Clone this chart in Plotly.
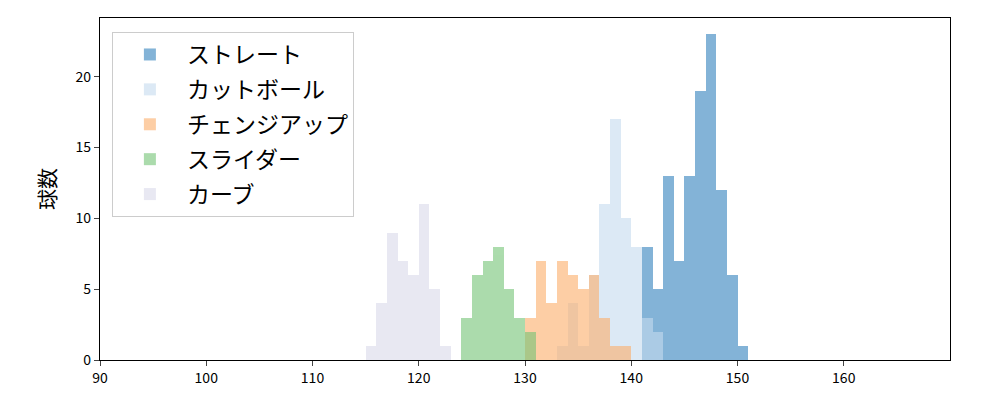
import plotly.graph_objects as go

# pitch types in drawing order
pitch_names = ["ストレート", "カットボール", "チェンジアップ", "スライダー", "カーブ"]
pitch_colors = ["#3182bd", "#c6dbef", "#fdae6b", "#74c476", "#dadaeb"]

# left edge of first 1 km/h bin, and counts per bin
straight_start = 141
straight_counts = [8, 5, 13, 7, 13, 19, 23, 12, 6, 1]

cutter_start = 133
cutter_counts = [1, 4, 1, 6, 11, 17, 10, 8, 3, 2]

change_start = 130
change_counts = [3, 7, 4, 7, 6, 5, 6, 3, 1, 1]

slider_start = 124
slider_counts = [3, 6, 7, 8, 5, 3, 2]

curve_start = 115
curve_counts = [1, 4, 9, 7, 6, 11, 5, 1]

starts = [straight_start, cutter_start, change_start, slider_start, curve_start]
counts = [straight_counts, cutter_counts, change_counts, slider_counts, curve_counts]

font = "Noto Sans CJK JP"

fig = go.Figure()
for name, color, start, cnt in zip(pitch_names, pitch_colors, starts, counts):
    edges = [start + i for i in range(len(cnt))]
    fig.add_trace(
        go.Bar(
            x=edges,
            y=cnt,
            width=1,
            offset=0,
            name=name,
            legendgroup=name,
            marker=dict(color=color, line=dict(width=0)),
            opacity=0.6,
        )
    )

# page has an 8px body margin, so margins are shifted to compensate
fig.update_layout(
    width=1000,
    height=400,
    barmode="overlay",
    bargap=0,
    plot_bgcolor="white",
    paper_bgcolor="white",
    margin=dict(l=92, r=58, t=10, b=48),
    font=dict(family=font, color="black"),
    legend=dict(
        x=0.014,
        y=0.959,
        xanchor="left",
        yanchor="top",
        bgcolor="rgba(255,255,255,0.8)",
        bordercolor="#cccccc",
        borderwidth=1,
        font=dict(size=23, family=font),
        itemwidth=64,
        tracegroupgap=2,
    ),
)
fig.update_xaxes(
    range=[90, 170],
    tickvals=[90, 100, 110, 120, 130, 140, 150, 160],
    ticks="outside",
    ticklen=5,
    tickwidth=1.2,
    tickfont=dict(size=14),
    showline=True,
    linecolor="black",
    linewidth=1.2,
    mirror=True,
    showgrid=False,
    zeroline=False,
)
fig.update_yaxes(
    range=[0, 24.15],
    tickvals=[0, 5, 10, 15, 20],
    ticks="outside",
    ticklen=5,
    tickwidth=1.2,
    tickfont=dict(size=14),
    title=dict(text="球数", font=dict(size=21), standoff=14),
    showline=True,
    linecolor="black",
    linewidth=1.2,
    mirror=True,
    showgrid=False,
    zeroline=False,
)

fig.write_html("out.html")
